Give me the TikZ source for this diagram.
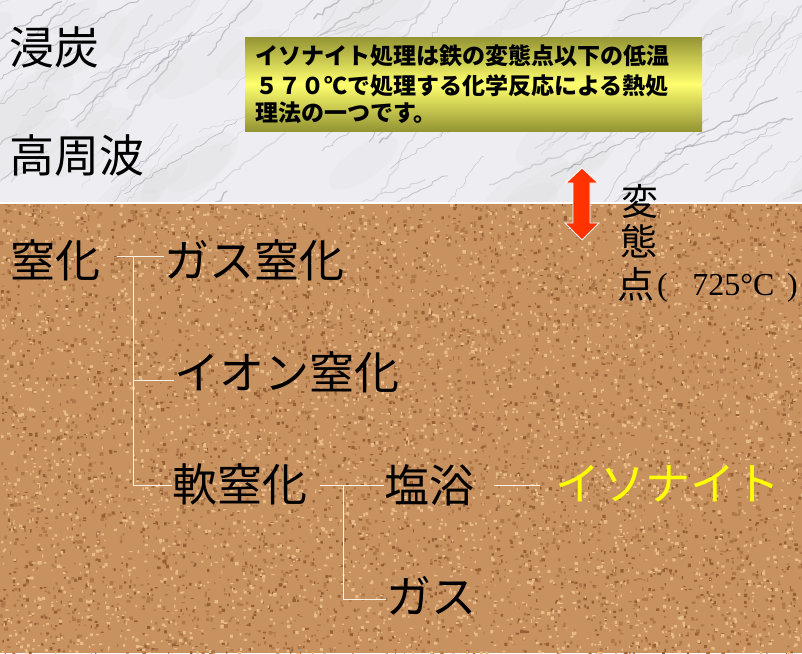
\documentclass[tikz,border=0pt]{standalone}
\usepackage{fontspec}
\newfontfamily\jp{Noto Sans CJK JP}
\newfontfamily\tms{Liberation Serif}
\usetikzlibrary{decorations.pathmorphing}
\definecolor{corkbase}{RGB}{200,146,96}
\definecolor{corkdark}{RGB}{150,96,54}
\definecolor{corkmid}{RGB}{176,120,74}
\definecolor{corklight}{RGB}{232,188,136}
\definecolor{marblebase}{RGB}{238,238,242}
\definecolor{vein}{RGB}{115,115,128}
\definecolor{arrowred}{RGB}{255,51,0}
\definecolor{boxolive}{RGB}{148,148,52}
\definecolor{boxyellow}{RGB}{255,255,110}
\definecolor{connc}{RGB}{250,242,228}
\definecolor{isoyellow}{RGB}{255,255,0}
\begin{document}
\begin{tikzpicture}[x=1pt,y=-1pt,
  lbl/.style={font=\jp\fontsize{45}{50}\selectfont, inner sep=0pt, text=black},
  vlbl/.style={font=\jp\fontsize{37}{42}\selectfont, inner sep=0pt, text=black},
  serif/.style={font=\tms\fontsize{32}{36}\selectfont, inner sep=0pt, text=black, anchor=base},
  boxt/.style={font=\jp\bfseries\fontsize{23}{27}\selectfont, inner sep=0pt, anchor=west, text=black},
  conn/.style={draw=connc, line width=1pt},
  veinline/.style={draw=vein, decorate, decoration={random steps, segment length=5pt, amplitude=2pt}}]
\useasboundingbox (0,0) rectangle (802,653);

% marble background
\begin{scope}
\clip (0,0) rectangle (802,203);
\fill[marblebase] (0,0) rectangle (802,203);
\pgfmathsetseed{7}
\foreach \i in {1,...,45}{
  \pgfmathsetmacro\xa{rnd*850-20}
  \pgfmathsetmacro\ya{rnd*230-10}
  \pgfmathsetmacro\ra{20+rnd*40}
  \fill[gray!40, opacity=0.09] (\xa,\ya) ellipse[x radius=\ra pt, y radius=0.4*\ra pt, rotate=35];
}
\foreach \i in {1,...,150}{
  \pgfmathsetmacro\xa{rnd*900-60}
  \pgfmathsetmacro\ya{rnd*250-20}
  \pgfmathsetmacro\len{30+rnd*110}
  \pgfmathsetmacro\ang{15+rnd*45}
  \pgfmathsetmacro\lw{0.3+rnd*1.2}
  \pgfmathsetmacro\op{0.12+rnd*0.28}
  \draw[veinline, line width=\lw pt, opacity=\op] (\xa,\ya) -- ++({\len*cos(\ang)},{-\len*sin(\ang)});
}
\end{scope}

% cork background
\begin{scope}
\clip (0,203) rectangle (802,653);
\fill[corkbase] (0,203) rectangle (802,653);
\pgfmathsetseed{11}
\fill[corkmid] \foreach \i in {1,...,3500} { ({rnd*802},{200+rnd*455}) rectangle ++({1+rnd*3},{1+rnd*3}) };
\fill[corkdark] \foreach \i in {1,...,2200} { ({rnd*802},{200+rnd*455}) rectangle ++({1+rnd*2.5},{1+rnd*2.5}) };
\fill[corklight] \foreach \i in {1,...,3500} { ({rnd*802},{200+rnd*455}) rectangle ++({1+rnd*2.5},{1+rnd*2.5}) };
\end{scope}
\draw[white, line width=1.2pt] (0,203) -- (802,203);

% yellow box
\shade[top color=boxolive, bottom color=boxolive, middle color=boxyellow] (245,37) rectangle (702,131);
\node[boxt] (b1) at (255,56) {イソナイト処理は鉄の変態点以下の低温};
\node[boxt] (b2) at (255,85.5) {５７０℃で処理する化学反応による熱処};
\node[boxt] (b3) at (255,112.5) {理法の一つです。};

% left labels
\node[lbl] (shintan) at (54.5,47) {浸炭};
\node[lbl] (koshuha) at (77,156) {高周波};
\node[lbl] (chitsu) at (55,260) {窒化};
\node[lbl] (gas1) at (254,260) {ガス窒化};
\node[lbl] (ion) at (286.5,372) {イオン窒化};
\node[lbl] (nan) at (240,484) {軟窒化};
\node[lbl] (enyoku) at (429,485) {塩浴};
\node[lbl] (gas2) at (431,596) {ガス};
\node[lbl, text=isoyellow] (iso) at (668,484) {イソナイト};

% connectors
\coordinate (jA) at (133,256);
\coordinate (jB) at (343,485);
\draw[conn] ([xshift=17pt,yshift=4pt]chitsu.east) -- (gas1.west |- jA);
\draw[conn] (jA) |- ([yshift=-8pt]ion.west);
\draw[conn] (jA) |- ([yshift=-1pt]nan.west);
\draw[conn] ([xshift=12pt,yshift=-1pt]nan.east) -- (enyoku.west |- jB);
\draw[conn] (jB) |- ([yshift=-3pt]gas2.west);
\draw[conn] ([xshift=20pt]enyoku.east) -- ([xshift=-15pt]iso.west |- enyoku.east);

% transformation point
\node[vlbl] (hen) at (639.5,201) {変};
\node[vlbl] (tai) at (639,241) {態};
\node[vlbl] (ten) at (636,284) {点};
\node[serif] (lp) at (662.5,295) {(};
\node[serif] (deg) at (733.5,295) {725°C};
\node[serif] (rp) at (792.5,295) {)};

% double arrow
\filldraw[fill=arrowred, draw=white, line width=0.8pt]
  (582,168) -- (598,183) -- (590,183) -- (590,223) -- (599,223) -- (582,240)
  -- (565,223) -- (573,223) -- (573,183) -- (566,183) -- cycle;
\end{tikzpicture}
\end{document}
